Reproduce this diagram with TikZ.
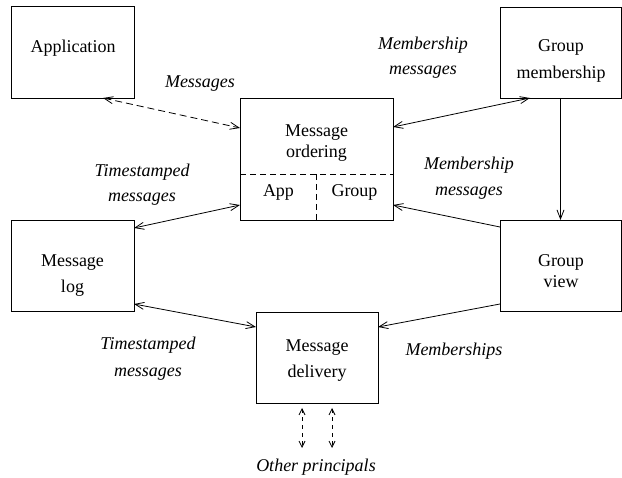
\documentclass[tikz,border=0pt]{standalone}
\usepackage{fontspec}
\setmainfont{Liberation Serif}
\usetikzlibrary{arrows.meta}
\begin{document}
\begin{tikzpicture}[x=1pt,y=-1pt,
  box/.style={draw, line width=0.8pt, inner sep=0pt, outer sep=0pt},
  txt/.style={inner sep=0pt, anchor=base, font=\fontsize{18}{22}\selectfont},
  lbl/.style={inner sep=0pt, anchor=base, font=\fontsize{18}{22}\selectfont\itshape},
  conn/.style={line width=0.8pt, {Straight Barb[length=9pt,width=7pt]}-{Straight Barb[length=9pt,width=7pt]}},
  oneway/.style={line width=0.8pt, -{Straight Barb[length=9pt,width=7pt]}},
  dconn/.style={conn, dash pattern=on 7pt off 4pt},
  sdconn/.style={line width=0.8pt, dash pattern=on 4pt off 4pt, {Straight Barb[length=6pt,width=6pt]}-{Straight Barb[length=6pt,width=6pt]}},
  sep/.style={line width=0.8pt, dash pattern=on 6pt off 4pt}]
\useasboundingbox (0,0) rectangle (622,478);

% boxes
\node[box, minimum width=123pt, minimum height=92pt] (app) at (72.5,52) {};
\node[box, minimum width=153pt, minimum height=122pt] (ord) at (316.5,159) {};
\node[box, minimum width=121pt, minimum height=91pt] (gm) at (560.5,52.5) {};
\node[box, minimum width=121pt, minimum height=91pt] (gv) at (560.5,265.5) {};
\node[box, minimum width=123pt, minimum height=91pt] (log) at (72.5,265.5) {};
\node[box, minimum width=122pt, minimum height=91pt] (del) at (317,357.5) {};

% separators inside message ordering
\coordinate (sepL) at ([yshift=46pt]ord.south west);
\coordinate (sepR) at ([yshift=46pt]ord.south east);
\coordinate (sepT) at ([yshift=46pt]ord.south);
\draw[sep] (sepL) -- (sepR);
\draw[sep] (sepT) -- (ord.south);

% node texts
\node[txt] (tApp) at (73,53) {Application};
\node[txt] (tOrd1) at (316.5,137) {Message};
\node[txt] (tOrd2) at (316.5,158) {ordering};
\node[txt] (tOrdA) at (278.5,197) {App};
\node[txt] (tOrdG) at (354.5,197) {Group};
\node[txt] (tGm1) at (561,52) {Group};
\node[txt] (tGm2) at (561,79) {membership};
\node[txt] (tGv1) at (561,267) {Group};
\node[txt] (tGv2) at (561,288) {view};
\node[txt] (tLog1) at (72.5,267) {Message};
\node[txt] (tLog2) at (72.5,293) {log};
\node[txt] (tDel1) at (317,352) {Message};
\node[txt] (tDel2) at (317,378) {delivery};

% connectors
\draw[dconn] ([xshift=30.5pt]app.south) -- ([yshift=31pt]ord.west);
\draw[conn] ([yshift=-8pt]log.north east) -- ([yshift=15pt]ord.south west);
\draw[conn] ([yshift=-29pt]ord.north east) -- ([xshift=-30.5pt]gm.south);
\draw[oneway] (gm.south) -- (gv.north);
\draw[oneway] ([yshift=-7pt]gv.north west) -- ([yshift=15pt]ord.south east);
\draw[oneway] ([yshift=7pt]gv.south west) -- ([yshift=-15pt]del.north east);
\draw[conn] ([yshift=7pt]log.south east) -- ([yshift=-15pt]del.north west);

\coordinate (op1) at ([xshift=-15pt,yshift=-45pt]del.south);
\coordinate (op2) at ([xshift=15pt,yshift=-45pt]del.south);
\draw[sdconn] ([xshift=-15pt,yshift=-5pt]del.south) -- (op1);
\draw[sdconn] ([xshift=15pt,yshift=-5pt]del.south) -- (op2);

% labels
\node[lbl] (lMsg) at (200,88) {Messages};
\node[lbl] (lMm1) at (423,50) {Membership};
\node[lbl] (lMm2) at (423,75) {messages};
\node[lbl] (lTs1) at (142,177) {Timestamped};
\node[lbl] (lTs2) at (142,202) {messages};
\node[lbl] (lMr1) at (469,170) {Membership};
\node[lbl] (lMr2) at (469,196) {messages};
\node[lbl] (lTb1) at (148,350) {Timestamped};
\node[lbl] (lTb2) at (148,377) {messages};
\node[lbl] (lMs) at (454,356) {Memberships};
\node[lbl] (lOp) at (316,472) {Other principals};
\end{tikzpicture}
\end{document}
